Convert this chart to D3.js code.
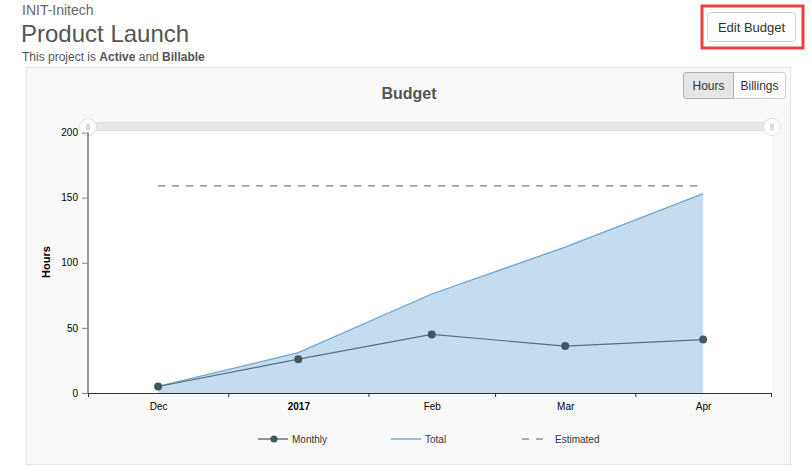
<!DOCTYPE html>
<html>
<head>
<meta charset="utf-8">
<script src="https://cdn.jsdelivr.net/npm/d3@7"></script>
<style>
  body { margin: 0; background: #fff; font-family: "Liberation Sans", Arial, sans-serif; }
  svg text { font-family: "Liberation Sans", Arial, sans-serif; }
</style>
</head>
<body>
<svg id="chart" width="812" height="472"></svg>
<script>
// data
var months = ["2016-12", "2017-01", "2017-02", "2017-03", "2017-04"];
var monthLabels = ["Dec", "2017", "Feb", "Mar", "Apr"];
var monthly = [5, 26, 45, 36, 41];
var total = [5, 31, 76, 112, 153];
var estimated = [159, 159];
var yTicks = [0, 50, 100, 150, 200];
var legendItems = ["Monthly", "Total", "Estimated"];

var svg = d3.select("#chart");
var parse = d3.timeParse("%Y-%m");

// header
svg.append("text").attr("x", 22).attr("y", 15).attr("font-size", 14).attr("fill", "#666").text("INIT-Initech");
svg.append("text").attr("x", 21).attr("y", 42).attr("font-size", 24).attr("fill", "#555").text("Product Launch");
var sub = svg.append("text").attr("x", 22).attr("y", 61).attr("font-size", 12).attr("fill", "#555");
sub.append("tspan").text("This project is ");
sub.append("tspan").attr("font-weight", "bold").text("Active");
sub.append("tspan").text(" and ");
sub.append("tspan").attr("font-weight", "bold").text("Billable");

// edit budget button + highlight
svg.append("rect").attr("x", 707.5).attr("y", 12.5).attr("width", 88).attr("height", 29).attr("rx", 3)
  .attr("fill", "#fff").attr("stroke", "#ccc");
svg.append("text").attr("x", 751.5).attr("y", 31.5).attr("text-anchor", "middle").attr("font-size", 13)
  .attr("fill", "#333").text("Edit Budget");
svg.append("rect").attr("x", 702).attr("y", 6).attr("width", 101).attr("height", 42)
  .attr("fill", "none").attr("stroke", "#ef3e42").attr("stroke-width", 3);

// panel
svg.append("rect").attr("x", 26.5).attr("y", 67.5).attr("width", 764).attr("height", 397)
  .attr("fill", "#f9f9f9").attr("stroke", "#e3e3e3");

svg.append("text").attr("x", 409).attr("y", 99).attr("text-anchor", "middle").attr("font-size", 16)
  .attr("font-weight", "bold").attr("fill", "#555").text("Budget");

// Hours / Billings toggle
svg.append("rect").attr("x", 683.5).attr("y", 72.5).attr("width", 102).attr("height", 26).attr("rx", 3)
  .attr("fill", "#fff").attr("stroke", "#ccc");
svg.append("path").attr("d", "M686.5,72.5 H733.5 V98.5 H686.5 A3,3 0 0 1 683.5,95.5 V75.5 A3,3 0 0 1 686.5,72.5 Z")
  .attr("fill", "#e6e6e6").attr("stroke", "#adadad");
svg.append("text").attr("x", 708.5).attr("y", 90).attr("text-anchor", "middle").attr("font-size", 12)
  .attr("fill", "#333").text("Hours");
svg.append("text").attr("x", 759.5).attr("y", 90).attr("text-anchor", "middle").attr("font-size", 12)
  .attr("fill", "#333").text("Billings");

// scales
var start = parse(months[0]);
var end = d3.timeMonth.offset(parse(months[months.length - 1]), 1);
var x = d3.scaleTime().domain([start, end]).range([88, 771]);
var y = d3.scaleLinear().domain([0, 200]).range([393, 132.5]);

function mid(m) {
  var a = parse(m), b = d3.timeMonth.offset(a, 1);
  return new Date((a.getTime() + b.getTime()) / 2);
}
var mids = months.map(mid);

// plot background
svg.append("rect").attr("x", 88).attr("y", 131).attr("width", 683.5).attr("height", 262).attr("fill", "#fff");

// range slider
svg.append("rect").attr("x", 88).attr("y", 122.5).attr("width", 684).attr("height", 8)
  .attr("fill", "#e8e8e8").attr("stroke", "#ddd");
[x.range()[0], x.range()[1] + 1].forEach(function(hx) {
  svg.append("circle").attr("cx", hx).attr("cy", 127).attr("r", 8.5)
    .attr("fill", "#fff").attr("stroke", "#e0e0e0");
  svg.append("line").attr("x1", hx - 1).attr("x2", hx - 1).attr("y1", 123.5).attr("y2", 130.5).attr("stroke", "#bbb");
  svg.append("line").attr("x1", hx + 1).attr("x2", hx + 1).attr("y1", 123.5).attr("y2", 130.5).attr("stroke", "#bbb");
});

// total area + line
var area = d3.area()
  .x(function(d, i) { return x(mids[i]); })
  .y0(y(0))
  .y1(function(d) { return y(d); });
var line = d3.line()
  .x(function(d, i) { return x(mids[i]); })
  .y(function(d) { return y(d); });

svg.append("path").datum(total).attr("d", area).attr("fill", "#c5dcef");
svg.append("path").datum(total).attr("d", line).attr("fill", "none").attr("stroke", "#6aa6d8").attr("stroke-width", 1.3);

// estimated
svg.append("line")
  .attr("x1", x(mids[0])).attr("x2", x(mids[mids.length - 1]))
  .attr("y1", y(estimated[0])).attr("y2", y(estimated[1]))
  .attr("stroke", "#6c78b0").attr("stroke-width", 1.3).attr("stroke-dasharray", "7,7");

// monthly
svg.append("path").datum(monthly).attr("d", line).attr("fill", "none").attr("stroke", "#56707c").attr("stroke-width", 1.2);
svg.selectAll(".dot").data(monthly).enter().append("circle")
  .attr("class", "dot")
  .attr("cx", function(d, i) { return x(mids[i]); })
  .attr("cy", function(d) { return y(d); })
  .attr("r", 4)
  .attr("fill", "#46565f");

// y axis
var gy = svg.append("g").attr("transform", "translate(88,0)")
  .call(d3.axisLeft(y).tickValues(yTicks).tickSize(6).tickPadding(4));
gy.select(".domain").attr("stroke", "#333").attr("d", "M0," + y(200) + "V" + y(0));
gy.selectAll(".tick line").attr("stroke", "#888");
gy.selectAll(".tick text").attr("font-size", 10).attr("fill", "#000").attr("font-family", "Liberation Sans, Arial, sans-serif");

svg.append("text").attr("transform", "translate(50,262) rotate(-90)").attr("text-anchor", "middle")
  .attr("font-size", 11).attr("font-weight", "bold").attr("fill", "#000").text("Hours");

// x axis: month boundary ticks
var gx = svg.append("g").attr("transform", "translate(0,393)")
  .call(d3.axisBottom(x).ticks(d3.timeMonth.every(1)).tickSize(4).tickFormat(""));
gx.select(".domain").attr("stroke", "#333");
gx.selectAll(".tick line").attr("stroke", "#333");

// x labels at month centres
var gl = svg.append("g").attr("transform", "translate(0,393)")
  .call(d3.axisBottom(x).tickValues(mids).tickSize(0).tickPadding(10)
    .tickFormat(function(d, i) { return monthLabels[i]; }));
gl.select(".domain").remove();
gl.selectAll(".tick text").attr("font-size", 10).attr("fill", "#000").attr("font-family", "Liberation Sans, Arial, sans-serif")
  .attr("font-weight", function(d, i) { return monthLabels[i] === "2017" ? "bold" : "normal"; });

// legend
var legX = [258, 391, 522];
var lg = svg.selectAll(".leg").data(legendItems).enter().append("g")
  .attr("class", "leg")
  .attr("transform", function(d, i) { return "translate(" + legX[i] + ",439)"; });
lg.append("line").attr("x1", 0).attr("x2", function(d, i) { return i === 2 ? 21 : 30; }).attr("y1", 0).attr("y2", 0)
  .attr("stroke", function(d, i) { return ["#8f979b", "#94bde0", "#a3a8c8"][i]; })
  .attr("stroke-width", 2)
  .attr("stroke-dasharray", function(d, i) { return i === 2 ? "7,7" : null; });
lg.filter(function(d, i) { return i === 0; }).append("circle").attr("cx", 16).attr("cy", 0).attr("r", 3.5).attr("fill", "#46565f");
lg.append("text").attr("x", function(d, i) { return i === 2 ? 33 : 34; }).attr("y", 3.5)
  .attr("font-size", 10).attr("fill", "#333").text(function(d) { return d; });
</script>
</body>
</html>
